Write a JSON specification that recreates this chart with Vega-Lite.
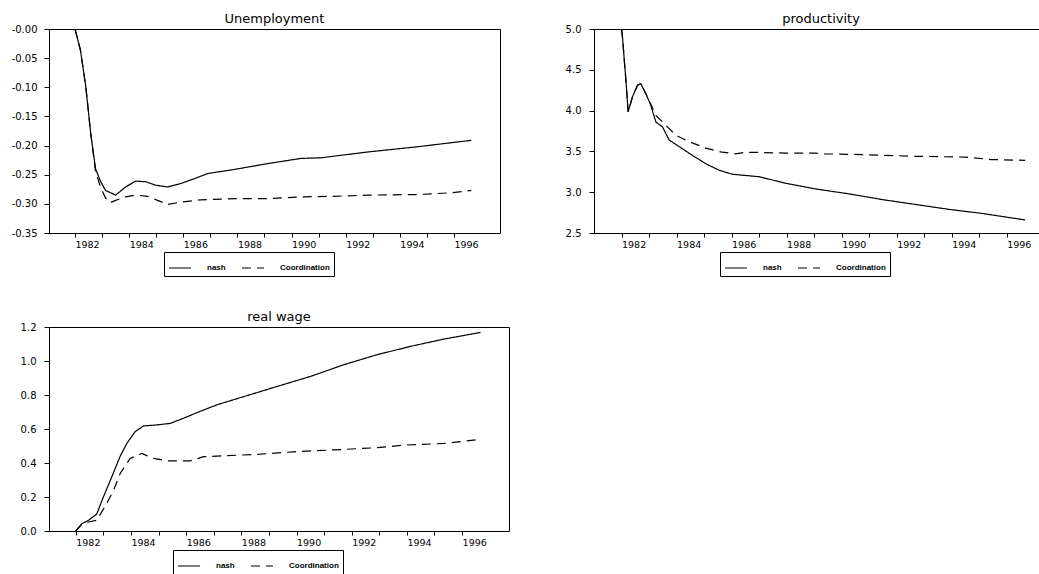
{
  "$schema": "https://vega.github.io/schema/vega-lite/v6.json",
  "background": "white",
  "padding": {"left": 10, "top": 12, "right": 2, "bottom": 0},
  "config": {
    "view": {"stroke": "black", "strokeWidth": 1},
    "axis": {"labelFont": "DejaVu Sans", "labelFontSize": 10, "labelColor": "black", "tickColor": "black", "tickSize": 5, "domain": false, "grid": false, "title": null},
    "title": {"font": "DejaVu Sans", "fontSize": 13, "fontWeight": "normal", "color": "black", "offset": -2, "anchor": "middle"},
    "legend": {"orient": "none", "direction": "horizontal", "title": null, "strokeColor": "black", "fillColor": "white", "padding": 4, "labelFont": "Liberation Sans", "labelFontWeight": "bold", "labelFontSize": 8, "labelColor": "black", "labelOffset": 15, "columnPadding": 13, "symbolType": "stroke", "symbolSize": 484, "symbolStrokeWidth": 1.2, "symbolStrokeColor": "black"}
  },
  "datasets": {
    "unemp": [
      {"year": 1982.0, "value": 0.0, "series": "nash"},
      {"year": 1982.2, "value": -0.036, "series": "nash"},
      {"year": 1982.4, "value": -0.099, "series": "nash"},
      {"year": 1982.58, "value": -0.179, "series": "nash"},
      {"year": 1982.76, "value": -0.24, "series": "nash"},
      {"year": 1982.95, "value": -0.262, "series": "nash"},
      {"year": 1983.13, "value": -0.277, "series": "nash"},
      {"year": 1983.5, "value": -0.285, "series": "nash"},
      {"year": 1983.87, "value": -0.271, "series": "nash"},
      {"year": 1984.24, "value": -0.261, "series": "nash"},
      {"year": 1984.61, "value": -0.262, "series": "nash"},
      {"year": 1984.98, "value": -0.268, "series": "nash"},
      {"year": 1985.42, "value": -0.271, "series": "nash"},
      {"year": 1985.91, "value": -0.265, "series": "nash"},
      {"year": 1986.4, "value": -0.257, "series": "nash"},
      {"year": 1986.9, "value": -0.248, "series": "nash"},
      {"year": 1987.88, "value": -0.241, "series": "nash"},
      {"year": 1989.11, "value": -0.231, "series": "nash"},
      {"year": 1990.35, "value": -0.222, "series": "nash"},
      {"year": 1991.09, "value": -0.221, "series": "nash"},
      {"year": 1992.81, "value": -0.211, "series": "nash"},
      {"year": 1994.66, "value": -0.202, "series": "nash"},
      {"year": 1996.64, "value": -0.191, "series": "nash"},
      {"year": 1982.0, "value": 0.0, "series": "Coordination"},
      {"year": 1982.2, "value": -0.036, "series": "Coordination"},
      {"year": 1982.4, "value": -0.099, "series": "Coordination"},
      {"year": 1982.58, "value": -0.179, "series": "Coordination"},
      {"year": 1982.76, "value": -0.245, "series": "Coordination"},
      {"year": 1982.95, "value": -0.272, "series": "Coordination"},
      {"year": 1983.13, "value": -0.29, "series": "Coordination"},
      {"year": 1983.3, "value": -0.298, "series": "Coordination"},
      {"year": 1983.5, "value": -0.294, "series": "Coordination"},
      {"year": 1983.87, "value": -0.288, "series": "Coordination"},
      {"year": 1984.24, "value": -0.285, "series": "Coordination"},
      {"year": 1984.68, "value": -0.287, "series": "Coordination"},
      {"year": 1985.05, "value": -0.294, "series": "Coordination"},
      {"year": 1985.42, "value": -0.301, "series": "Coordination"},
      {"year": 1985.91, "value": -0.297, "series": "Coordination"},
      {"year": 1986.65, "value": -0.293, "series": "Coordination"},
      {"year": 1987.88, "value": -0.291, "series": "Coordination"},
      {"year": 1989.11, "value": -0.291, "series": "Coordination"},
      {"year": 1990.35, "value": -0.288, "series": "Coordination"},
      {"year": 1991.58, "value": -0.287, "series": "Coordination"},
      {"year": 1992.81, "value": -0.285, "series": "Coordination"},
      {"year": 1994.66, "value": -0.284, "series": "Coordination"},
      {"year": 1995.9, "value": -0.281, "series": "Coordination"},
      {"year": 1996.64, "value": -0.277, "series": "Coordination"}
    ],
    "prod": [
      {"year": 1982.0, "value": 5.0, "series": "nash"},
      {"year": 1982.04, "value": 4.885, "series": "nash"},
      {"year": 1982.1, "value": 4.62, "series": "nash"},
      {"year": 1982.16, "value": 4.37, "series": "nash"},
      {"year": 1982.24, "value": 3.985, "series": "nash"},
      {"year": 1982.4, "value": 4.17, "series": "nash"},
      {"year": 1982.58, "value": 4.31, "series": "nash"},
      {"year": 1982.7, "value": 4.33, "series": "nash"},
      {"year": 1982.88, "value": 4.21, "series": "nash"},
      {"year": 1983.06, "value": 4.07, "series": "nash"},
      {"year": 1983.25, "value": 3.86, "series": "nash"},
      {"year": 1983.49, "value": 3.8, "series": "nash"},
      {"year": 1983.73, "value": 3.64, "series": "nash"},
      {"year": 1984.09, "value": 3.56, "series": "nash"},
      {"year": 1984.58, "value": 3.45, "series": "nash"},
      {"year": 1985.06, "value": 3.35, "series": "nash"},
      {"year": 1985.54, "value": 3.27, "series": "nash"},
      {"year": 1986.03, "value": 3.22, "series": "nash"},
      {"year": 1986.99, "value": 3.19, "series": "nash"},
      {"year": 1987.96, "value": 3.11, "series": "nash"},
      {"year": 1989.05, "value": 3.04, "series": "nash"},
      {"year": 1990.26, "value": 2.98, "series": "nash"},
      {"year": 1991.47, "value": 2.91, "series": "nash"},
      {"year": 1992.68, "value": 2.85, "series": "nash"},
      {"year": 1993.89, "value": 2.79, "series": "nash"},
      {"year": 1995.1, "value": 2.74, "series": "nash"},
      {"year": 1996.67, "value": 2.66, "series": "nash"},
      {"year": 1982.0, "value": 5.0, "series": "Coordination"},
      {"year": 1982.04, "value": 4.885, "series": "Coordination"},
      {"year": 1982.1, "value": 4.62, "series": "Coordination"},
      {"year": 1982.16, "value": 4.37, "series": "Coordination"},
      {"year": 1982.24, "value": 3.985, "series": "Coordination"},
      {"year": 1982.4, "value": 4.17, "series": "Coordination"},
      {"year": 1982.58, "value": 4.31, "series": "Coordination"},
      {"year": 1982.7, "value": 4.33, "series": "Coordination"},
      {"year": 1982.88, "value": 4.21, "series": "Coordination"},
      {"year": 1983.06, "value": 4.08, "series": "Coordination"},
      {"year": 1983.25, "value": 3.94, "series": "Coordination"},
      {"year": 1983.61, "value": 3.82, "series": "Coordination"},
      {"year": 1983.97, "value": 3.7, "series": "Coordination"},
      {"year": 1984.45, "value": 3.62, "series": "Coordination"},
      {"year": 1985.06, "value": 3.54, "series": "Coordination"},
      {"year": 1985.66, "value": 3.49, "series": "Coordination"},
      {"year": 1986.15, "value": 3.47, "series": "Coordination"},
      {"year": 1986.51, "value": 3.49, "series": "Coordination"},
      {"year": 1987.96, "value": 3.48, "series": "Coordination"},
      {"year": 1989.05, "value": 3.48, "series": "Coordination"},
      {"year": 1989.41, "value": 3.47, "series": "Coordination"},
      {"year": 1990.86, "value": 3.46, "series": "Coordination"},
      {"year": 1992.68, "value": 3.44, "series": "Coordination"},
      {"year": 1994.49, "value": 3.43, "series": "Coordination"},
      {"year": 1995.46, "value": 3.4, "series": "Coordination"},
      {"year": 1996.67, "value": 3.39, "series": "Coordination"}
    ],
    "wage": [
      {"year": 1982.0, "value": 0.0, "series": "nash"},
      {"year": 1982.22, "value": 0.043, "series": "nash"},
      {"year": 1982.46, "value": 0.063, "series": "nash"},
      {"year": 1982.76, "value": 0.1, "series": "nash"},
      {"year": 1983.0, "value": 0.2, "series": "nash"},
      {"year": 1983.31, "value": 0.32, "series": "nash"},
      {"year": 1983.61, "value": 0.44, "series": "nash"},
      {"year": 1983.85, "value": 0.515, "series": "nash"},
      {"year": 1984.15, "value": 0.584, "series": "nash"},
      {"year": 1984.45, "value": 0.618, "series": "nash"},
      {"year": 1984.94, "value": 0.624, "series": "nash"},
      {"year": 1985.42, "value": 0.633, "series": "nash"},
      {"year": 1985.9, "value": 0.663, "series": "nash"},
      {"year": 1986.39, "value": 0.696, "series": "nash"},
      {"year": 1987.11, "value": 0.742, "series": "nash"},
      {"year": 1988.08, "value": 0.79, "series": "nash"},
      {"year": 1989.29, "value": 0.85, "series": "nash"},
      {"year": 1990.5, "value": 0.909, "series": "nash"},
      {"year": 1991.71, "value": 0.978, "series": "nash"},
      {"year": 1992.92, "value": 1.037, "series": "nash"},
      {"year": 1994.13, "value": 1.086, "series": "nash"},
      {"year": 1995.34, "value": 1.129, "series": "nash"},
      {"year": 1996.67, "value": 1.168, "series": "nash"},
      {"year": 1982.0, "value": 0.0, "series": "Coordination"},
      {"year": 1982.22, "value": 0.04, "series": "Coordination"},
      {"year": 1982.46, "value": 0.053, "series": "Coordination"},
      {"year": 1982.76, "value": 0.063, "series": "Coordination"},
      {"year": 1983.12, "value": 0.161, "series": "Coordination"},
      {"year": 1983.37, "value": 0.24, "series": "Coordination"},
      {"year": 1983.61, "value": 0.338, "series": "Coordination"},
      {"year": 1983.97, "value": 0.427, "series": "Coordination"},
      {"year": 1984.39, "value": 0.456, "series": "Coordination"},
      {"year": 1984.82, "value": 0.427, "series": "Coordination"},
      {"year": 1985.3, "value": 0.413, "series": "Coordination"},
      {"year": 1986.15, "value": 0.413, "series": "Coordination"},
      {"year": 1986.63, "value": 0.437, "series": "Coordination"},
      {"year": 1987.48, "value": 0.443, "series": "Coordination"},
      {"year": 1988.69, "value": 0.452, "series": "Coordination"},
      {"year": 1989.9, "value": 0.466, "series": "Coordination"},
      {"year": 1991.71, "value": 0.48, "series": "Coordination"},
      {"year": 1992.92, "value": 0.49, "series": "Coordination"},
      {"year": 1993.89, "value": 0.505, "series": "Coordination"},
      {"year": 1995.34, "value": 0.515, "series": "Coordination"},
      {"year": 1996.67, "value": 0.539, "series": "Coordination"}
    ]
  },
  "columns": 2,
  "spacing": {"row": 33, "column": 54},
  "resolve": {
    "scale": {"x": "independent", "y": "independent", "strokeDash": "independent"},
    "axis": {"x": "independent", "y": "independent"},
    "legend": {"strokeDash": "independent"}
  },
  "concat": [
    {
      "data": {"name": "unemp"},
      "title": "Unemployment",
      "width": 451,
      "height": 204,
      "mark": {"type": "line", "color": "black", "strokeWidth": 1.2, "clip": true},
      "encoding": {
        "x": {"field": "year", "type": "quantitative", "scale": {"domain": [1981.04, 1997.7], "nice": false, "zero": false},
          "axis": {"values": [1982,1983,1984,1985,1986,1987,1988,1989,1990,1991,1992,1993,1994,1995,1996], "tickSize": 4, "labelPadding": 2, "labelAlign": "left", "labelFontSize": 9.5, "labelFlush": false, "labelOverlap": false, "labelExpr": "datum.value % 2 == 0 ? format(datum.value, 'd') : ''"}},
        "y": {"field": "value", "type": "quantitative", "scale": {"domain": [-0.35, 0], "nice": false, "zero": false},
          "axis": {"values": [-0.35,-0.3,-0.25,-0.2,-0.15,-0.1,-0.05,0], "labelPadding": 7, "labelExpr": "'-' + format(abs(datum.value), '.2f')"}},
        "strokeDash": {"field": "series", "type": "nominal", "scale": {"domain": ["nash", "Coordination"], "range": [[1, 0], [9, 6]]},
          "legend": {"legendX": 115, "legendY": 223}}
      }
    },
    {
      "data": {"name": "prod"},
      "title": "productivity",
      "width": 454,
      "height": 204,
      "mark": {"type": "line", "color": "black", "strokeWidth": 1.2, "clip": true},
      "encoding": {
        "x": {"field": "year", "type": "quantitative", "scale": {"domain": [1981.0, 1997.5], "nice": false, "zero": false},
          "axis": {"values": [1982,1983,1984,1985,1986,1987,1988,1989,1990,1991,1992,1993,1994,1995,1996], "tickSize": 4, "labelPadding": 2, "labelAlign": "left", "labelFontSize": 9.5, "labelFlush": false, "labelOverlap": false, "labelExpr": "datum.value % 2 == 0 ? format(datum.value, 'd') : ''"}},
        "y": {"field": "value", "type": "quantitative", "scale": {"domain": [2.5, 5], "nice": false, "zero": false},
          "axis": {"values": [2.5,3,3.5,4,4.5,5], "labelPadding": 8, "format": ".1f"}},
        "strokeDash": {"field": "series", "type": "nominal", "scale": {"domain": ["nash", "Coordination"], "range": [[1, 0], [9, 6]]},
          "legend": {"legendX": 126, "legendY": 223}}
      }
    },
    {
      "data": {"name": "wage"},
      "title": "real wage",
      "width": 460,
      "height": 204,
      "mark": {"type": "line", "color": "black", "strokeWidth": 1.2, "clip": true},
      "encoding": {
        "x": {"field": "year", "type": "quantitative", "scale": {"domain": [1981.03, 1997.7], "nice": false, "zero": false},
          "axis": {"values": [1982,1983,1984,1985,1986,1987,1988,1989,1990,1991,1992,1993,1994,1995,1996], "tickSize": 4, "labelPadding": 2, "labelAlign": "left", "labelFontSize": 9.5, "labelFlush": false, "labelOverlap": false, "labelExpr": "datum.value % 2 == 0 ? format(datum.value, 'd') : ''"}},
        "y": {"field": "value", "type": "quantitative", "scale": {"domain": [0, 1.2], "nice": false, "zero": false},
          "axis": {"values": [0,0.2,0.4,0.6,0.8,1.0,1.2], "labelPadding": 8, "format": ".1f"}},
        "strokeDash": {"field": "series", "type": "nominal", "scale": {"domain": ["nash", "Coordination"], "range": [[1, 0], [9, 6]]},
          "legend": {"legendX": 124, "legendY": 223}}
      }
    }
  ]
}
